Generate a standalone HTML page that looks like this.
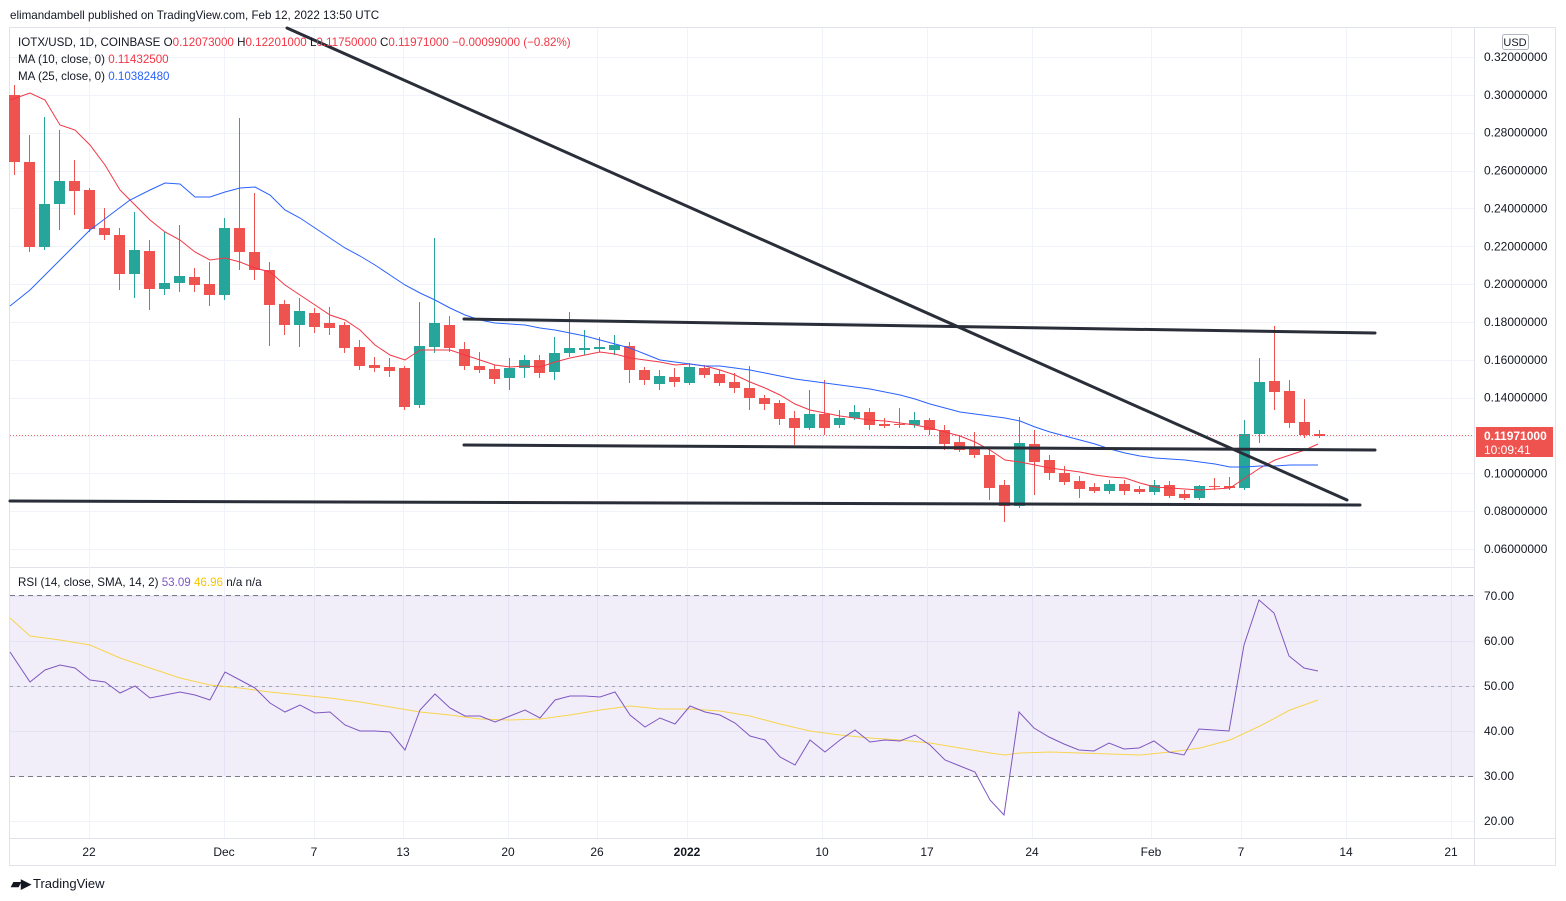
<!DOCTYPE html>
<html><head><meta charset="utf-8"><style>
body{margin:0;background:#fff;width:1566px;height:901px;overflow:hidden;font-family:"Liberation Sans",sans-serif}
svg{position:absolute;left:0;top:0}
</style></head><body>
<svg id="s" width="1566" height="901" xmlns="http://www.w3.org/2000/svg" font-family="Liberation Sans, sans-serif">
<rect x="0" y="0" width="1566" height="901" fill="#fff"/>
<text x="10" y="19" font-size="11.6" fill="#131722">elimandambell published on TradingView.com, Feb 12, 2022 13:50 UTC</text>
<rect x="9.5" y="27.5" width="1546" height="838" fill="none" stroke="#e0e3eb"/>
<line x1="9" y1="567.5" x2="1474" y2="567.5" stroke="#e0e3eb"/>
<line x1="9" y1="838.5" x2="1556" y2="838.5" stroke="#e0e3eb"/>
<line x1="1474.5" y1="27" x2="1474.5" y2="866" stroke="#e0e3eb"/>
<g id="grid" stroke="#f0f3fa" stroke-width="1"></g>
<rect x="10" y="595" width="1464" height="181" fill="#7e57c2" fill-opacity="0.1"/>
<g stroke="#787b86" stroke-dasharray="5,4" stroke-width="1">
<line x1="10" y1="595.5" x2="1474" y2="595.5"/><line x1="10" y1="686.5" x2="1474" y2="686.5" stroke-dasharray="3,4" stroke-opacity="0.6"/><line x1="10" y1="776.5" x2="1474" y2="776.5"/>
</g>
<g id="candles"></g>
<polyline id="ma10" fill="none" stroke="#f23645" stroke-width="1"/>
<polyline id="ma25" fill="none" stroke="#2962ff" stroke-width="1"/>
<line x1="10" y1="435.5" x2="1474" y2="435.5" stroke="#f23645" stroke-dasharray="1,2" stroke-opacity="0.8"/>
<g stroke="#2a2e39" stroke-width="3" stroke-linecap="round">
<line x1="287" y1="28" x2="1347" y2="500"/>
<line x1="464" y1="319" x2="1375" y2="333"/>
<line x1="464" y1="445" x2="1375" y2="450"/>
<line x1="10" y1="501" x2="1360" y2="505"/>
</g>
<polyline id="rsima" fill="none" stroke="#f7d54f" stroke-width="1"/>
<polyline id="rsi" fill="none" stroke="#7e57c2" stroke-width="1"/>
<g font-size="11.6">
<text x="18" y="46" fill="#131722">IOTX/USD, 1D, COINBASE  O<tspan fill="#f23645">0.12073000</tspan>  H<tspan fill="#f23645">0.12201000</tspan>  L<tspan fill="#f23645">0.11750000</tspan>  C<tspan fill="#f23645">0.11971000  −0.00099000 (−0.82%)</tspan></text>
<text x="18" y="63" fill="#131722">MA (10, close, 0)  <tspan fill="#f23645">0.11432500</tspan></text>
<text x="18" y="80" fill="#131722">MA (25, close, 0)  <tspan fill="#2962ff">0.10382480</tspan></text>
<text x="18" y="586" fill="#131722">RSI (14, close, SMA, 14, 2)  <tspan fill="#7e57c2">53.09</tspan>  <tspan fill="#f7c600">46.96</tspan>  n/a  n/a</text>
</g>
<rect x="1502.5" y="34.5" width="26" height="15" rx="2" fill="#fff" stroke="#b2b5be"/>
<text x="1515" y="46" font-size="11" text-anchor="middle" fill="#131722">USD</text>
<g id="yl" font-size="12" fill="#131722"></g>
<rect x="1476" y="427" width="77" height="30" fill="#ef5350"/>
<text x="1484" y="440" font-size="12" font-weight="bold" fill="#fff">0.11971000</text>
<text x="1484" y="454" font-size="12" fill="#fff">10:09:41</text>
<g font-size="12" fill="#131722" text-anchor="middle">
<text x="89" y="856">22</text><text x="224" y="856">Dec</text><text x="314" y="856">7</text><text x="403" y="856">13</text><text x="508" y="856">20</text><text x="597" y="856">26</text><text x="687" y="856" font-weight="bold">2022</text><text x="822" y="856">10</text><text x="927" y="856">17</text><text x="1032" y="856">24</text><text x="1151" y="856">Feb</text><text x="1241" y="856">7</text><text x="1346" y="856">14</text><text x="1451" y="856">21</text>
</g>
<text x="11" y="888" font-size="13" font-weight="bold" fill="#131722">▰▶</text>
<text x="33" y="888" font-size="13" fill="#131722">TradingView</text>
</svg>
<script>
const NS="http://www.w3.org/2000/svg";
function el(p,t,a){const e=document.createElementNS(NS,t);for(const k in a)e.setAttribute(k,a[k]);document.getElementById(p).appendChild(e);return e;}
[89,224,314,403,508,597,687,822,927,1032,1151,1241,1346,1451].forEach(x=>{el('grid','line',{x1:x+.5,y1:28,x2:x+.5,y2:838});});
for(let i=0;i<=13;i++){const p=0.32-0.02*i;const y=57+i*37.85;if(p<0.059)break;
 el('grid','line',{x1:10,y1:Math.round(y)+.5,x2:1474,y2:Math.round(y)+.5});
 if(Math.abs(p-0.12)<0.001)continue;
 const t=el('yl','text',{x:1484,y:y+4});t.textContent=p.toFixed(8);}
[[70,596],[60,641],[50,686],[40,731],[30,776],[20,821]].forEach(([v,y])=>{el('grid','line',{x1:10,y1:y+.5,x2:1474,y2:y+.5});const t=el('yl','text',{x:1484,y:y+4});t.textContent=v.toFixed(2);});
const C=[[95,162,85,175],[162,247,135,252],[247,204,117,250],[204,181,130,230],[181,191,160,215],[190,229,188,232],[228,235,208,240],[235,274,228,290],[274,250,212,298],[251,289,240,310],[289,283,232,295],[283,276,225,292],[277,285,268,292],[284,295,262,306],[295,228,218,300],[228,252,118,270],[252,270,193,280],[270,305,262,346],[304,325,300,335],[325,311,298,347],[313,327,308,333],[323,328,307,335],[325,348,322,353],[347,366,340,370],[365,368,357,372],[367,371,358,377],[368,407,366,410],[405,346,302,408],[347,323,238,353],[325,348,316,352],[349,366,342,370],[366,370,352,373],[369,379,365,384],[378,368,358,390],[368,360,355,378],[360,373,355,378],[372,353,337,380],[353,348,312,357],[350,348,330,355],[349,347,337,352],[350,345,335,355],[346,370,342,383],[370,380,367,385],[384,376,370,390],[377,382,368,387],[383,367,363,385],[368,375,365,378],[374,383,370,386],[382,388,373,393],[388,398,366,410],[398,404,395,410],[403,419,400,425],[418,428,411,445],[428,414,390,430],[414,428,380,435],[425,418,410,428],[418,412,405,420],[412,425,408,430],[424,426,418,428],[424,425,408,428],[425,420,412,428],[420,430,418,435],[430,444,425,450],[442,450,435,452],[448,455,432,458],[455,488,450,500],[485,506,480,522],[506,443,417,508],[444,462,430,495],[460,473,455,480],[473,482,466,485],[481,489,476,498],[487,491,483,493],[491,484,480,494],[484,491,480,495],[489,492,486,494],[492,485,480,495],[485,496,481,498],[494,498,490,500],[498,486,485,500],[486,487,478,490],[486,488,477,490],[488,434,420,490],[434,382,358,443],[381,392,326,410],[391,423,380,428],[422,435,399,438],[434,436,430,438]];
C.forEach((c,i)=>{const x=14+15*i;const [o,cl,h,l]=c;const up=cl<o;const col=up?'#26a69a':'#ef5350';
 el('candles','line',{x1:x+.5,y1:h,x2:x+.5,y2:l,stroke:col});
 const t=Math.min(o,cl),b=Math.max(o,cl);el('candles','rect',{x:x-5,y:t,width:11,height:Math.max(1,b-t),fill:col});});
function pl(id,s){document.getElementById(id).setAttribute('points',s);}
pl('ma10',"10,100 30,93 45,100 60,125 75,130 90,145 105,165 120,190 135,205 150,220 165,232 180,240 195,252 210,260 225,258 240,262 255,268 270,272 285,285 300,295 315,305 330,315 345,320 360,330 375,345 390,355 405,360 420,350 435,350 450,350 465,355 480,360 495,365 510,367 525,366 540,367 555,362 570,358 585,355 600,352 615,354 630,358 645,360 660,362 675,365 690,364 705,366 720,370 735,375 750,382 765,388 780,395 795,404 810,410 825,413 840,416 855,418 870,420 885,421 900,423 915,425 930,428 945,432 960,436 975,442 990,450 1005,460 1020,462 1035,465 1050,468 1065,470 1080,472 1095,475 1110,477 1125,478 1140,483 1155,487 1170,488 1185,489 1200,490 1215,489 1230,488 1245,478 1260,468 1275,460 1290,455 1305,450 1318,444");
pl('ma25',"10,306 30,290 50,270 70,250 90,230 110,215 130,200 150,190 165,183 180,184 195,197 210,197 225,192 240,188 255,187 270,195 285,210 300,218 315,228 330,238 345,248 360,256 375,265 390,275 405,285 420,293 435,300 450,308 465,315 480,320 495,323 510,324 525,325 540,328 555,330 570,333 585,336 600,340 615,344 630,348 645,354 660,360 675,362 690,364 705,366 720,366 735,368 750,370 765,373 780,376 795,379 810,381 825,383 840,385 855,387 870,389 885,392 900,395 915,399 930,404 945,408 960,412 975,414 990,416 1005,418 1020,421 1035,427 1050,432 1065,436 1080,440 1095,444 1110,449 1125,453 1140,456 1155,458 1170,459 1185,460 1200,462 1215,464 1230,467 1245,467 1260,466 1275,466 1290,465 1318,465");
pl('rsi',"10,652 30,682 45,670 60,665 75,668 90,680 105,682 120,693 135,686 150,698 165,695 180,692 195,695 210,700 225,672 240,680 255,688 270,703 285,712 300,705 315,713 330,712 345,725 360,731 375,731 390,732 405,750 420,710 435,694 450,708 465,716 480,716 495,722 510,716 525,710 540,718 555,700 570,696 585,696 600,697 615,692 630,715 645,727 660,718 675,724 690,706 705,712 720,715 735,723 750,736 765,740 780,757 795,765 810,740 825,752 840,740 855,730 870,742 885,740 900,741 915,735 930,745 945,760 960,766 975,772 990,800 1004,815 1019,712 1034,728 1049,737 1064,744 1079,750 1094,751 1109,743 1124,749 1139,748 1154,741 1169,752 1184,755 1199,729 1214,730 1229,731 1244,645 1259,600 1274,613 1289,656 1304,668 1318,671");
pl('rsima',"10,618 30,636 60,640 90,645 120,658 150,668 180,678 210,685 240,688 270,692 300,695 330,698 360,702 390,707 420,712 450,715 480,719 510,720 540,719 570,715 600,710 630,706 660,709 690,709 720,711 750,716 780,724 810,731 840,735 870,738 900,740 930,743 960,748 990,753 1005,755 1020,753 1050,752 1080,753 1110,754 1140,755 1170,752 1200,748 1230,740 1260,726 1290,710 1318,700");
</script>
</body></html>
